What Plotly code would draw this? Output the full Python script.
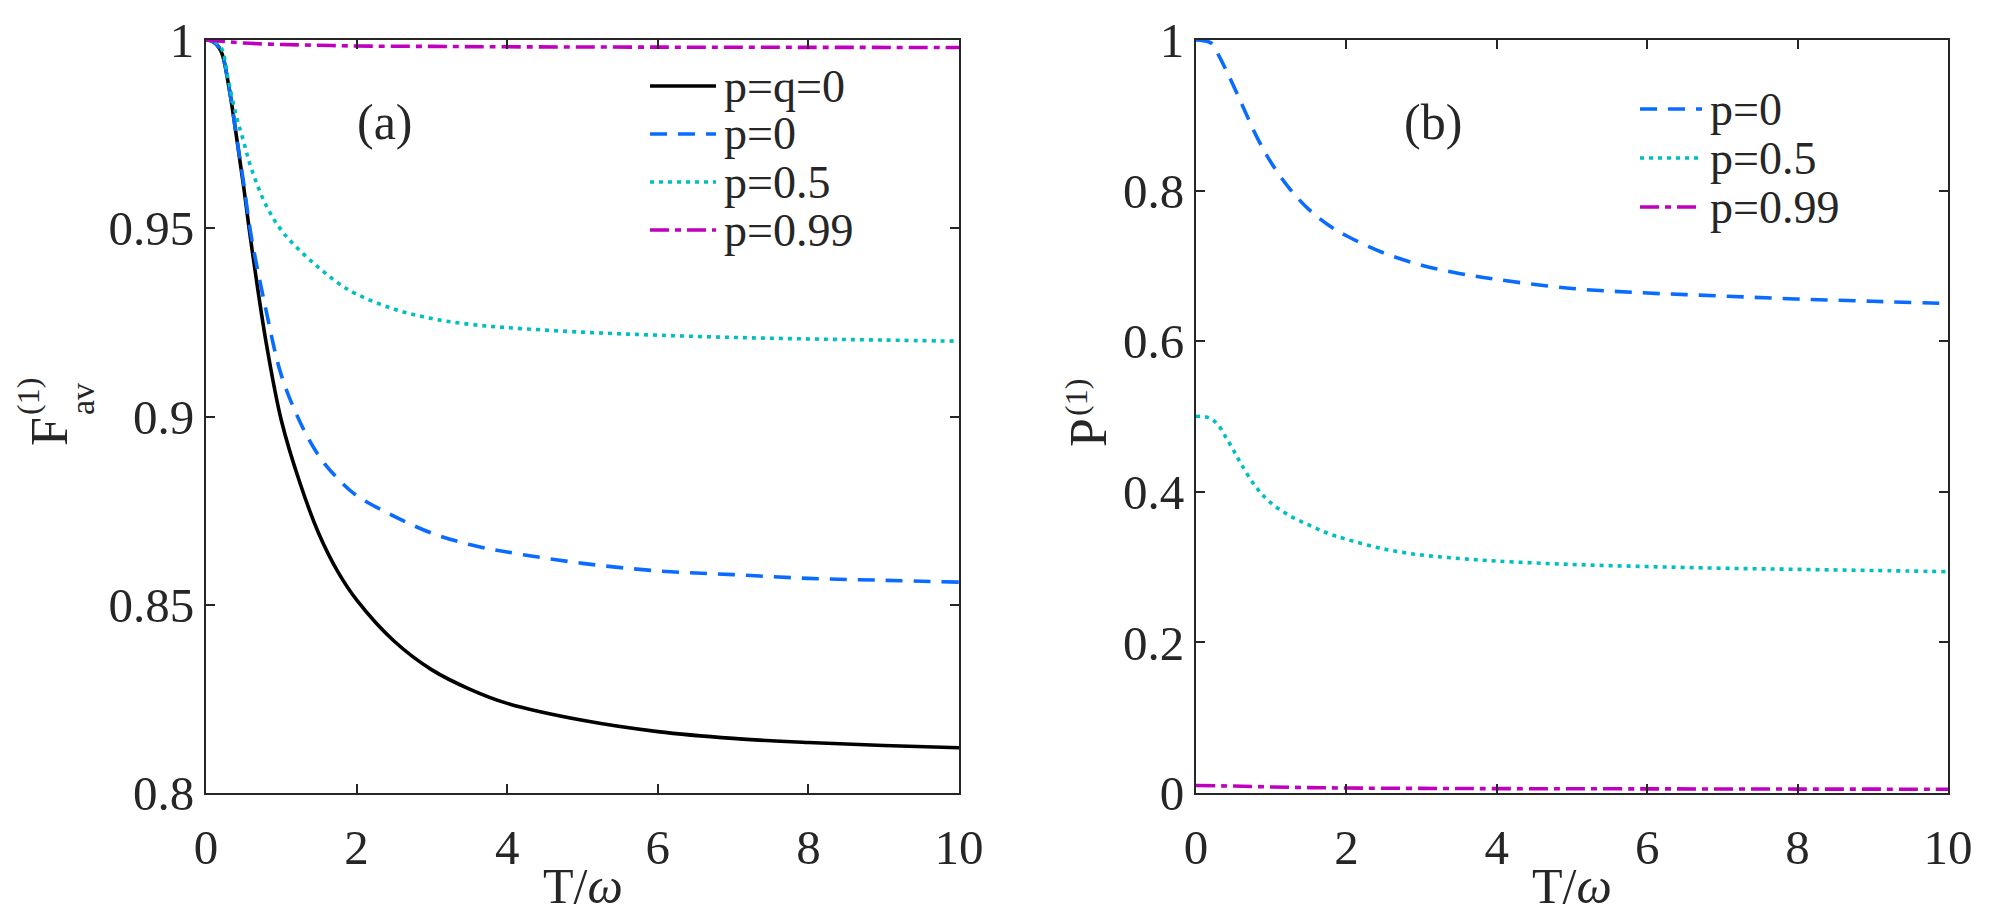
import plotly.graph_objects as go

# ---------------- data ----------------
T_a = [0, 0.1, 0.2, 0.3, 0.4, 0.5, 0.6, 0.8, 1.0, 1.25, 1.5, 1.75, 2, 2.5, 3, 3.5, 4, 5, 6, 7, 8, 9, 10]
F_pq0 = [1.0, 0.9995, 0.997, 0.988, 0.975, 0.961, 0.946, 0.9195, 0.899, 0.8822, 0.8688, 0.8588, 0.8513,
         0.8403, 0.8327, 0.8276, 0.8238, 0.8193, 0.8163, 0.8145, 0.8134, 0.8126, 0.812]
F_p0 = [1.0, 0.9995, 0.997, 0.988, 0.975, 0.962, 0.948, 0.928, 0.911, 0.8985, 0.8895, 0.8835, 0.879,
        0.8735, 0.869, 0.866, 0.864, 0.861, 0.859, 0.858, 0.857, 0.8565, 0.856]
F_p05 = [1.0, 0.9997, 0.998, 0.989, 0.980, 0.973, 0.966, 0.956, 0.9495, 0.944, 0.9395, 0.9355, 0.9325,
         0.9285, 0.926, 0.9245, 0.9236, 0.9224, 0.9216, 0.921, 0.9206, 0.9203, 0.920]
T_a99 = [0, 0.25, 0.5, 1, 1.5, 2, 3, 4, 6, 8, 10]
F_p099 = [1.0, 0.9996, 0.9992, 0.9988, 0.9986, 0.9984, 0.9983, 0.9982, 0.9981, 0.99805, 0.998]

T_b = [0, 0.1, 0.2, 0.3, 0.4, 0.5, 0.6, 0.8, 1.0, 1.25, 1.5, 1.75, 2, 2.5, 3, 3.5, 4, 5, 6, 7, 8, 9, 10]
P_p0 = [1.0, 0.999, 0.996, 0.980, 0.960, 0.939, 0.917, 0.873, 0.837, 0.802, 0.775, 0.755, 0.740,
        0.717, 0.701, 0.690, 0.682, 0.670, 0.664, 0.660, 0.656, 0.653, 0.650]
P_p05 = [0.500, 0.500, 0.497, 0.488, 0.472, 0.455, 0.437, 0.406, 0.385, 0.368, 0.356, 0.345, 0.337,
         0.324, 0.316, 0.3115, 0.308, 0.3035, 0.3007, 0.2985, 0.297, 0.2955, 0.294]
T_b99 = [0, 0.5, 1, 1.5, 2, 3, 4, 6, 8, 10]
P_p099 = [0.010, 0.0092, 0.0080, 0.0072, 0.0066, 0.0061, 0.0058, 0.0055, 0.0052, 0.005]

names_a = ["p=q=0", "p=0", "p=0.5", "p=0.99"]
names_b = ["p=0", "p=0.5", "p=0.99"]

x_ticks = [0, 2, 4, 6, 8, 10]
ya_ticks = [0.8, 0.85, 0.9, 0.95, 1]
ya_text = ["0.8", "0.85", "0.9", "0.95", "1"]
yb_ticks = [0, 0.2, 0.4, 0.6, 0.8, 1]
yb_text = ["0", "0.2", "0.4", "0.6", "0.8", "1"]

# ---------------- styles ----------------
FONT = "Times New Roman, Liberation Serif, serif"
AX = "#262626"
BLACK = "#000000"
BLUE = "#0A6CFF"
CYAN = "#00BFBF"
MAG = "#BF00BF"
LW = 3.6
style = {
    "solid": dict(color=BLACK, width=LW, dash="solid"),
    "dash": dict(color=BLUE, width=LW, dash="17px,11px"),
    "dot": dict(color=CYAN, width=LW, dash="4px,5px"),
    "dashdot": dict(color=MAG, width=LW, dash="19px,6px,6px,6px"),
}

fig = go.Figure()

def add(x, y, st, xa, ya, name):
    fig.add_trace(go.Scatter(x=x, y=y, mode="lines", name=name, showlegend=False,
                             line=dict(shape="spline", smoothing=1.0, **style[st]),
                             xaxis=xa, yaxis=ya))

add(T_a, F_pq0, "solid", "x", "y", names_a[0])
add(T_a, F_p0, "dash", "x", "y", names_a[1])
add(T_a, F_p05, "dot", "x", "y", names_a[2])
add(T_a99, F_p099, "dashdot", "x", "y", names_a[3])

add(T_b, P_p0, "dash", "x2", "y2", names_b[0])
add(T_b, P_p05, "dot", "x2", "y2", names_b[1])
add(T_b99, P_p099, "dashdot", "x2", "y2", names_b[2])

W, H = 1999, 922
def px(x): return x / W
def py(y): return 1 - y / H

axcommon = dict(showline=True, linecolor=AX, linewidth=2, mirror="ticks", ticks="inside",
                ticklen=9, tickwidth=2, tickcolor=AX, showgrid=False, zeroline=False,
                automargin=False, tickfont=dict(family=FONT, size=49, color=AX))

dom_y = [py(793), py(40)]
fig.update_layout(
    width=W, height=H, margin=dict(l=0, r=0, t=0, b=0, autoexpand=False),
    paper_bgcolor="white", plot_bgcolor="white",
    xaxis=dict(domain=[px(206), px(959)], range=[0, 10], tickvals=x_ticks, anchor="y",
               ticklabelstandoff=10, **axcommon),
    yaxis=dict(domain=dom_y, range=[0.8, 1], tickvals=ya_ticks, ticktext=ya_text, anchor="x", **axcommon),
    xaxis2=dict(domain=[px(1196), px(1948)], range=[0, 10], tickvals=x_ticks, anchor="y2",
                ticklabelstandoff=10, **axcommon),
    yaxis2=dict(domain=dom_y, range=[0, 1], tickvals=yb_ticks, ticktext=yb_text, anchor="x2", **axcommon),
)

ann = []
def text(x, y, t, size=48, angle=0, xanchor="center", yanchor="middle"):
    ann.append(dict(x=px(x), y=py(y), xref="paper", yref="paper", text=t, showarrow=False,
                    textangle=angle, xanchor=xanchor, yanchor=yanchor,
                    font=dict(family=FONT, size=size, color=AX)))

# axis titles
text(583, 886, "T/<i>ω</i>", size=50)
text(1572, 886, "T/<i>ω</i>", size=50)
text(49, 432, "F", size=52, angle=-90)
text(28, 397, "(1)", size=32, angle=-90)
text(82, 399, "av", size=34, angle=-90)
text(1088, 433, "P", size=52, angle=-90)
text(1076, 398, "(1)", size=32, angle=-90)

# panel labels
text(385, 122, "(a)", size=50)
text(1433, 122, "(b)", size=50)

# legends (drawn as sample line + label)
shapes = []
def leg_item(x0, x1, y, st, label):
    s = style[st]
    shapes.append(dict(type="line", xref="paper", yref="paper", x0=px(x0), x1=px(x1), y0=py(y), y1=py(y),
                       line=dict(color=s["color"], width=LW, dash=s["dash"])))
    text(x1 + 6, y, label, size=46, xanchor="left")

rows_a = [86, 134, 182, 230]
for r, st, nm in zip(rows_a, ["solid", "dash", "dot", "dashdot"], names_a):
    leg_item(650, 716, r, st, nm)
rows_b = [109, 158, 207]
for r, st, nm in zip(rows_b, ["dash", "dot", "dashdot"], names_b):
    leg_item(1640, 1702, r, st, nm)

fig.update_layout(annotations=ann, shapes=shapes)
fig.write_html("out.html")
